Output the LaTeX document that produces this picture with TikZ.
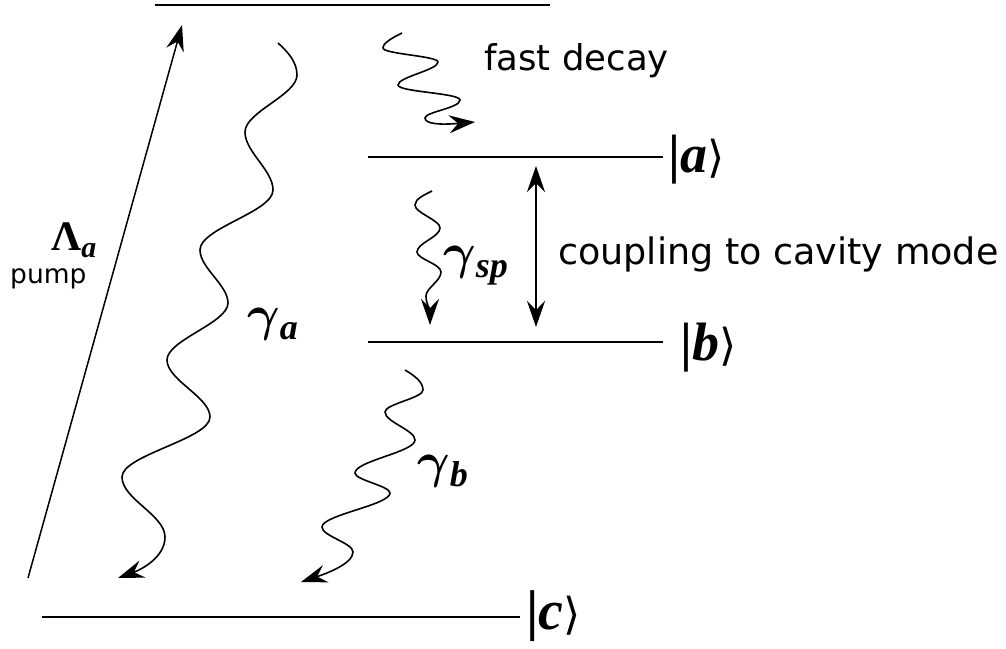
\RequirePackage{fix-cm}
\documentclass[tikz,border=0pt]{standalone}
\usepackage{bm}
\usepackage{fontspec}
\setmainfont{DejaVu Sans}
\newfontfamily\tms{Liberation Serif}
\usetikzlibrary{arrows.meta}
\newcommand\myket[1]{{\tms\bfseries|\itshape #1}{\fontsize{44}{44}\selectfont⟩}}
\newcommand\mysym[2]{{\fontsize{50}{50}\selectfont$\bm{\gamma}$}\raisebox{-9pt}{\tms\bfseries\itshape\fontsize{36}{36}\selectfont #2}}
\tikzset{
  level/.style={line width=1.4pt},
  tip/.tip={Stealth[length=26pt,width=18pt,inset=9pt]},
  wave/.style={line width=1.6pt, -tip},
  straightarrow/.style={line width=1.5pt, -tip},
  lbl/.style={inner sep=0pt, anchor=base west},
}
\begin{document}
\begin{tikzpicture}[x=1pt,y=-1pt]
\useasboundingbox (0,0) rectangle (1006,648);
% levels
\coordinate (t0) at (155,5);   \coordinate (t1) at (550,5);
\coordinate (a0) at (368,157); \coordinate (a1) at (663,157);
\coordinate (b0) at (368,342); \coordinate (b1) at (663,342);
\coordinate (c0) at (42,617);  \coordinate (c1) at (520,617);
\draw[level] (t0) -- (t1);
\draw[level] (a0) -- (a1);
\draw[level] (b0) -- (b1);
\draw[level] (c0) -- (c1);
% kets
\node[lbl] (ka) at (668,172) {\fontsize{54}{54}\selectfont\myket{a}};
\node[lbl] (kb) at (680,360) {\fontsize{54}{54}\selectfont\myket{b}};
\node[lbl] (kc) at (526,629) {\fontsize{56}{56}\selectfont\myket{c}};
% texts
\node[lbl] (fd) at (484,70) {\fontsize{35.5}{35.5}\selectfont fast decay};
\node[lbl] (cp) at (558,264) {\fontsize{36.5}{36.5}\selectfont coupling to cavity mode};
\node[lbl] (pm) at (10,283) {\fontsize{26.5}{26.5}\selectfont pump};
\node[lbl] (La) at (51,250) {{\tms\bfseries\fontsize{42}{42}\selectfont Λ}\raisebox{-7pt}{\tms\bfseries\itshape\fontsize{30}{30}\selectfont a}};
\node[lbl] (ga) at (247,330) {\mysym{γ}{a}};
\node[lbl] (gsp) at (443,268) {\mysym{γ}{sp}};
\node[lbl] (gb) at (417,477) {\mysym{γ}{b}};
% pump
\coordinate (p0) at (28,578); \coordinate (p1) at (182,25);
\draw[straightarrow] (p0) -- (p1);
% coupling
\coordinate (cu0) at (536,166); \coordinate (cu1) at (536,327);
\draw[line width=1.5pt, tip-tip] (cu0) -- (cu1);
% gamma_a wave
\coordinate (gaS) at (278,43); \coordinate (gaE) at (118,578);
\draw[wave] (gaS) .. controls (288,52) and (297,62) .. (297,75)
  .. controls (297,95) and (245,112) .. (245,132)
  .. controls (245,152) and (273,170) .. (273,190)
  .. controls (273,212) and (200,228) .. (200,250)
  .. controls (200,268) and (228,285) .. (228,303)
  .. controls (228,323) and (167,340) .. (167,360)
  .. controls (167,380) and (210,397) .. (210,417)
  .. controls (210,439) and (122,455) .. (122,477)
  .. controls (122,499) and (165,515) .. (165,537)
  .. controls (165,558) and (140,570) .. (gaE);
% gamma_b wave
\coordinate (gbS) at (405,370); \coordinate (gbE) at (301,582);
\draw[wave] (gbS) .. controls (415,376) and (423,382) .. (423,390)
  .. controls (423,398) and (385,404) .. (385,412)
  .. controls (385,422) and (415,430) .. (415,440)
  .. controls (415,452) and (355,461) .. (355,473)
  .. controls (355,480) and (390,486) .. (390,493)
  .. controls (390,505) and (322,515) .. (322,527)
  .. controls (322,536) and (353,543) .. (353,552)
  .. controls (353,564) and (325,574) .. (gbE);
% gamma_sp wave
\coordinate (gsS) at (432,191); \coordinate (gsE) at (430,325);
\draw[wave] (gsS) .. controls (424,195) and (415,199) .. (415,205)
  .. controls (415,213) and (440,220) .. (440,228)
  .. controls (440,237) and (417,243) .. (417,252)
  .. controls (417,259) and (441,264) .. (441,272)
  .. controls (441,281) and (426,288) .. (426,296)
  .. controls (426,304) and (430,310) .. (gsE);
% fast decay wave
\coordinate (fS) at (402,33); \coordinate (fE) at (475,122);
\draw[wave] (fS) .. controls (392,38) and (383,43) .. (383,48)
  .. controls (383,54) and (438,56) .. (438,62)
  .. controls (438,70) and (398,77) .. (398,85)
  .. controls (398,92) and (460,93) .. (460,100)
  .. controls (460,108) and (425,112) .. (425,118)
  .. controls (425,124) and (440,125) .. (fE);
\end{tikzpicture}
\end{document}
